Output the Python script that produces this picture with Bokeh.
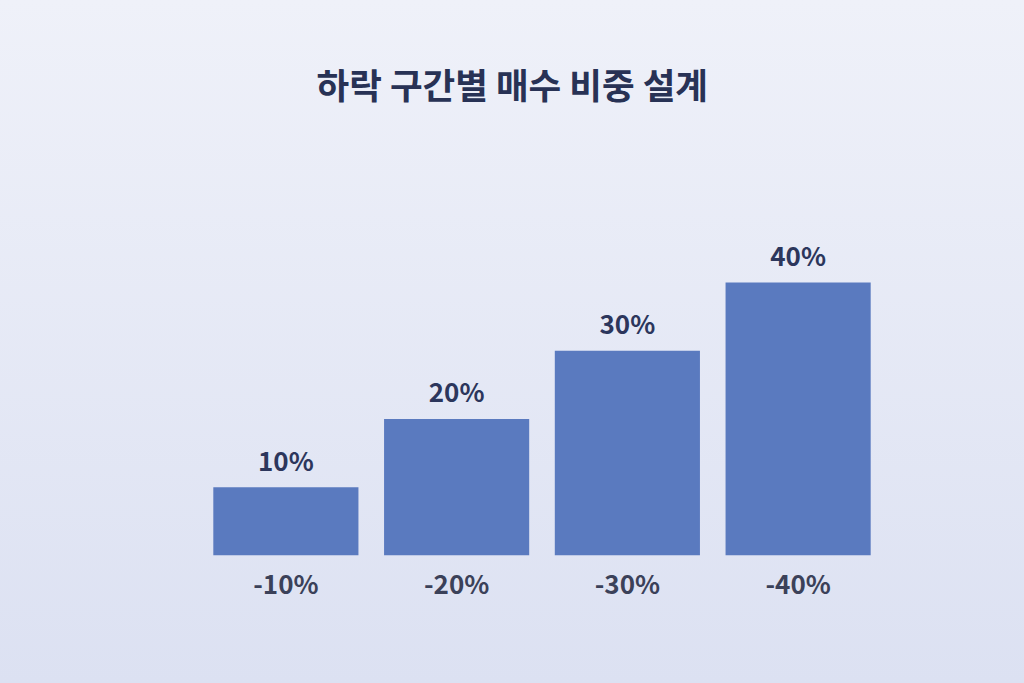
from bokeh.plotting import figure
from bokeh.models import ColumnDataSource, FactorRange, Range1d
from bokeh.core.properties import value
from bokeh.embed import file_html
from bokeh.resources import INLINE

title_text = "하락 구간별 매수 비중 설계"
categories = ["-10%", "-20%", "-30%", "-40%"]
weights = [10, 20, 30, 40]
value_labels = ["10%", "20%", "30%", "40%"]

FONT = "Noto Sans CJK KR"

src = ColumnDataSource(dict(cat=categories, w=weights, lbl=value_labels))

p = figure(
    width=1008, height=667,
    x_range=FactorRange(*categories, range_padding=0),
    y_range=Range1d(0, 64),
    output_backend="svg", toolbar_location=None,
    min_border_left=200, min_border_right=125,
    min_border_top=118, min_border_bottom=112,
)
p.border_fill_color = None
p.background_fill_color = None
p.outline_line_color = None

p.title.text = title_text
p.title.align = "left"
p.title.offset = 116
p.title.text_font = FONT
p.title.text_font_style = "bold"
p.title.text_font_size = "35.5px"
p.title.text_color = "#283255"
p.title.standoff = 19

p.vbar(x="cat", top="w", width=0.85, source=src, fill_color="#5a7abf", line_color=None)

p.text(x="cat", y="w", text="lbl", source=src, text_align="center", text_baseline="alphabetic",
       y_offset=-28, text_font=value(FONT), text_font_style="bold", text_font_size="26px",
       text_color="#2c365c")

p.yaxis.visible = False
p.xgrid.grid_line_color = None
p.ygrid.grid_line_color = None
xa = p.xaxis[0]
xa.axis_line_color = None
xa.major_tick_line_color = None
xa.minor_tick_line_color = None
xa.major_label_text_font = FONT
xa.major_label_text_font_style = "bold"
xa.major_label_text_font_size = "26px"
xa.major_label_text_color = "#3b4159"
xa.major_label_standoff = 2

html = file_html(p, INLINE)
style = ("<style>html,body{height:100%;}"
         "body{background:linear-gradient(180deg,#eff1f9 0%,#dce1f2 100%);background-attachment:fixed;}</style>")
html = html.replace("</head>", style + "</head>", 1)
open("out.html", "w").write(html)
